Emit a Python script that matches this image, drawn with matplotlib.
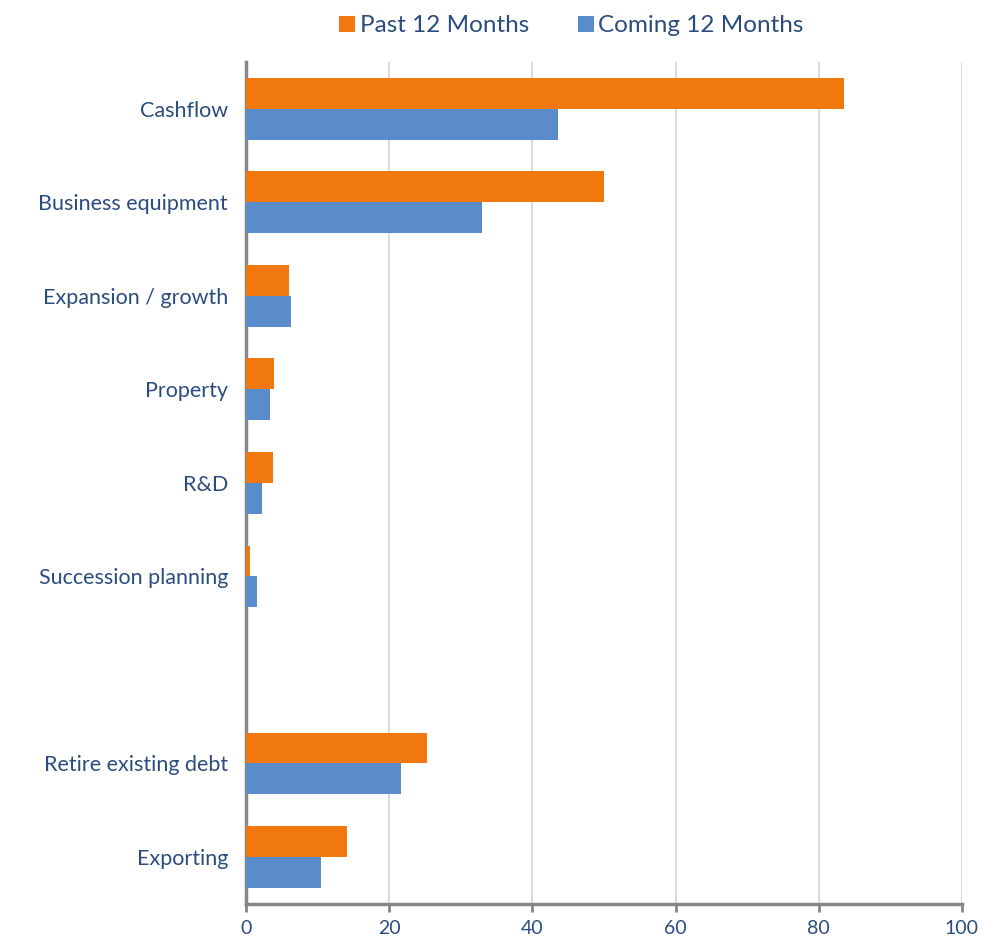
import numpy as np
import matplotlib.pyplot as plt

# Categories top to bottom; the empty string leaves a blank slot
categories = ['Cashflow', 'Business equipment', 'Expansion / growth', 'Property',
              'R&D', 'Succession planning', '', 'Retire existing debt', 'Exporting']
past_12 = [83.5, 50.0, 6.0, 3.9, 3.8, 0.6, np.nan, 25.3, 14.1]
coming_12 = [43.6, 33.0, 6.3, 3.3, 2.2, 1.5, np.nan, 21.6, 10.5]
x_ticks = [0, 20, 40, 60, 80, 100]

ORANGE = '#F0780F'
BLUE = '#5A8BCB'
TEXT = '#2B4C7E'
AXIS = '#878787'
GRID = '#D4D4D4'

plt.rcParams['font.family'] = ['Lato', 'DejaVu Sans']

fig = plt.figure(figsize=(9.82, 9.39), dpi=100)
ax = fig.add_axes([0.2505, 0.0375, 0.729, 0.8965])

y = np.arange(len(categories))
h = 0.33
ax.barh(y - h / 2, past_12, height=h, color=ORANGE, label='Past 12 Months', zorder=3)
ax.barh(y + h / 2, coming_12, height=h, color=BLUE, label='Coming 12 Months', zorder=3)

ax.set_ylim(len(categories) - 0.5, -0.5)
ax.set_xlim(0, 100)
ax.set_yticks(y)
ax.set_yticklabels(categories, fontsize=15.5, color=TEXT)
ax.tick_params(axis='y', length=0, pad=13)
ax.set_xticks(x_ticks)
ax.set_xticklabels([str(t) for t in x_ticks], fontsize=14, color=TEXT)
ax.tick_params(axis='x', length=6, width=2, color=AXIS, direction='out', pad=6)

ax.grid(axis='x', color=GRID, linewidth=1.2, zorder=0)
for side in ['top', 'right']:
    ax.spines[side].set_visible(False)
for side in ['left', 'bottom']:
    ax.spines[side].set_color(AXIS)
    ax.spines[side].set_linewidth(2.5)

leg = fig.legend(loc='upper center', bbox_to_anchor=(0.582, 1.007), ncol=2,
                 frameon=False, fontsize=17.5, handlelength=0.65, handleheight=0.65,
                 handletextpad=0.2, columnspacing=2.0)
for t in leg.get_texts():
    t.set_color(TEXT)

fig.savefig('out.png', dpi=100)
